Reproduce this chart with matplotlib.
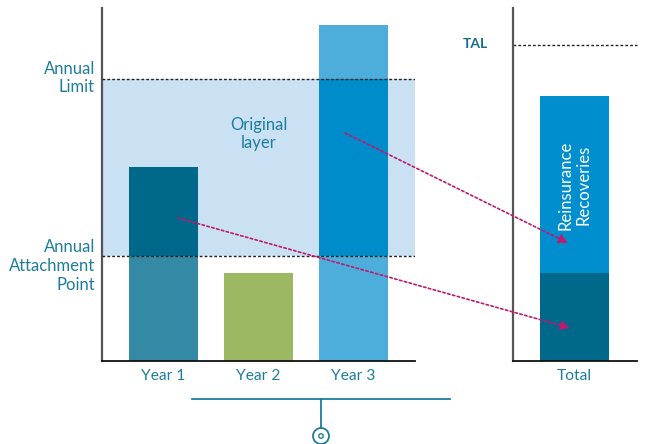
import numpy as np
import matplotlib.pyplot as plt
from matplotlib.patches import ConnectionPatch, Circle
from matplotlib.lines import Line2D

plt.rcParams['font.family'] = ['Lato', 'DejaVu Sans']

years = ["Year 1", "Year 2", "Year 3"]
year_losses = [194, 88, 336]
attachment = 105
limit = 282
tal = 316
total_retained = 88
total_recovered = 177

teal = "#1E7D9C"
band_col = "#C9E1F3"
arrow_col = "#C2186E"

fig = plt.figure(figsize=(6.48, 4.44), dpi=100)
ax = fig.add_axes([102 / 648, 83 / 444, 313 / 648, 353 / 444])
ax2 = fig.add_axes([513 / 648, 83 / 444, 124 / 648, 353 / 444])

x = np.arange(len(years))
w = 0.726
losses = np.array(year_losses, dtype=float)

# split each year's loss into below / inside / above the layer
below = np.minimum(losses, attachment)
inside = np.clip(losses - attachment, 0, limit - attachment)
above = np.clip(losses - limit, 0, None)

below_cols = ["#3489A5", "#9CB862", "#4DAEDB"]
inside_cols = ["#00688B", "#9CB862", "#008BCB"]
above_cols = ["#4DAEDB", "#4DAEDB", "#4DAEDB"]

ax.axhspan(attachment, limit, color=band_col, zorder=0, lw=0)
ax.bar(x, below, w, color=below_cols, zorder=2)
ax.bar(x, inside, w, bottom=below, color=inside_cols, zorder=2)
ax.bar(x, above, w, bottom=below + inside, color=above_cols, zorder=2)

for lvl in (attachment, limit):
    ax.axhline(lvl, color="#222222", lw=1.0, ls=(0, (2, 1.5)), zorder=3)

ax.set_xlim(-0.647, 2.647)
ax.set_ylim(0, 353)
ax.set_xticks(x)
ax.set_xticklabels(years)

ax.text(-0.721, limit + 1, "Annual\nLimit", ha="right", va="center",
        color=teal, fontsize=12, linespacing=1.2, clip_on=False)
ax.text(-0.721, attachment - 10, "Annual\nAttachment\nPoint", ha="right",
        va="center", color=teal, fontsize=12, linespacing=1.2, clip_on=False)
ax.text(1.0, 227, "Original\nlayer", ha="center", va="center",
        color=teal, fontsize=12, linespacing=1.2)

# total panel
ax2.bar([0], [total_retained], w, color="#00688B", zorder=2)
ax2.bar([0], [total_recovered], w, bottom=[total_retained], color="#008ECE", zorder=2)
ax2.axhline(tal, color="#222222", lw=1.0, ls=(0, (2, 1.5)), clip_on=False)
ax2.set_xlim(-0.647, 0.658)
ax2.set_ylim(0, 353)
ax2.set_xticks([0])
ax2.set_xticklabels(["Total"])
ax2.text(-1.047, tal + 1, "TAL", ha="center", va="center", color="#1B6A8A",
         fontsize=10, fontweight="bold", clip_on=False)
ax2.text(0.0, 176, "Reinsurance\nRecoveries", ha="center", va="center",
         rotation=90, color="white", fontsize=12, linespacing=1.15)

for a in (ax, ax2):
    for s in ("top", "right"):
        a.spines[s].set_visible(False)
    a.spines["left"].set_color("#555555")
    a.spines["left"].set_linewidth(1.6)
    a.spines["bottom"].set_color("#111111")
    a.spines["bottom"].set_linewidth(1.3)
    a.set_yticks([])
    a.tick_params(axis="x", length=0, pad=6, labelsize=11.2, labelcolor=teal)

# dotted arrows from the layer to the total bar
for (xa, ya), (xb, yb) in [((1.911, 228), (-0.068, 118)),
                           ((0.153, 143), (-0.047, 33))]:
    con = ConnectionPatch((xa, ya), (xb, yb), coordsA=ax.transData,
                          coordsB=ax2.transData, arrowstyle="-|>",
                          mutation_scale=14, color=arrow_col, lw=1.2,
                          ls=(0, (1.5, 1.5)), zorder=5)
    fig.add_artist(con)

# bracket and marker under the year bars
def fx(px):
    return px / 648

def fy(py):
    return 1 - py / 444

fig.add_artist(Line2D([fx(192), fx(450)], [fy(399), fy(399)], color=teal, lw=1.3))
fig.add_artist(Line2D([fx(321), fx(321)], [fy(399), fy(428)], color=teal, lw=1.3))
c = Circle((321, 444 - 436), 8, transform=None, fill=False, ec=teal, lw=1.3)
fig.add_artist(c)
fig.add_artist(Circle((321, 444 - 436), 2.2, transform=None, fill=False, ec=teal, lw=1.0))

fig.savefig("out.png", dpi=100)
